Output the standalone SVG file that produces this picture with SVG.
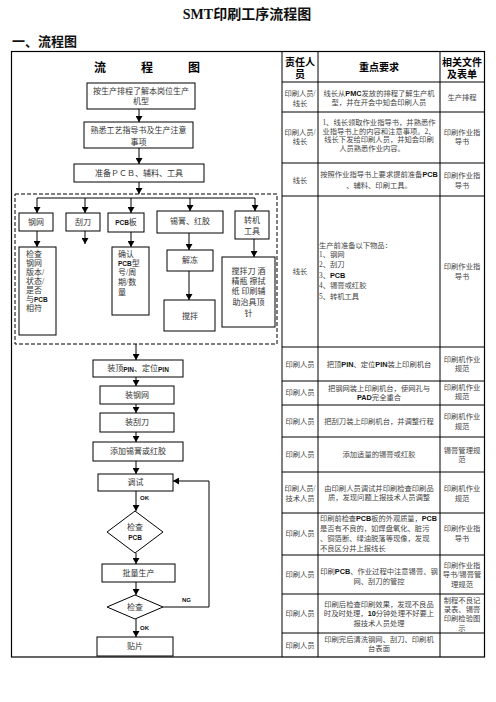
<svg xmlns="http://www.w3.org/2000/svg" width="496" height="702" viewBox="0 0 496 702">
<style>
text{font-family:"Liberation Serif","Noto Sans CJK SC",serif;dominant-baseline:central}
.t{font-size:7.3px;fill:#444;text-anchor:middle}
.f{font-size:8px;fill:#333;text-anchor:middle}
.l{text-anchor:start}
.h{font-family:"Liberation Serif","Noto Sans CJK SC",sans-serif;font-weight:bold;font-size:10px;fill:#000;text-anchor:middle}
.b{font-family:"Liberation Sans",sans-serif;font-weight:bold;fill:#111}
.box{fill:#fff;stroke:#000;stroke-width:1}
.ln{stroke:#000;stroke-width:1;fill:none}
.tb{stroke:#000;stroke-width:1.2;fill:none}
</style>
<defs>
<marker id="ah" markerUnits="userSpaceOnUse" markerWidth="6" markerHeight="7" refX="6" refY="3.5" orient="auto">
<path d="M0,0 L6,3.5 L0,7 z" fill="#000"/>
</marker>
</defs>
<rect width="496" height="702" fill="#fff"/>

<g id="title">
<text x="247" y="14" style="font-size:14px;font-weight:bold;text-anchor:middle;fill:#111">SMT印刷工序流程图</text>
<text x="12" y="40" style="font-size:13px;font-weight:bold;fill:#111;font-family:'Noto Sans CJK SC',sans-serif">一、流程图</text>
</g>

<g id="table">
<rect class="tb" x="11.5" y="51.5" width="473" height="605.5"/>
<path class="ln" d="M282,51.5V657 M318,51.5V657 M440,51.5V657 M282,82H484.5 M282,112H484.5 M282,163H484.5 M282,196H484.5 M282,347H484.5 M282,381H484.5 M282,405H484.5 M282,437H484.5 M282,472H484.5 M282,513H484.5 M282,555H484.5 M282,594H484.5 M282,633H484.5"/>
<text class="h" x="100" y="68" style="font-size:12px">流</text>
<text class="h" x="147" y="68" style="font-size:12px">程</text>
<text class="h" x="194" y="68" style="font-size:12px">图</text>
<text class="h" x="300" y="62">责任人</text>
<text class="h" x="300" y="74">员</text>
<text class="h" x="379" y="67">重点要求</text>
<text class="h" x="462" y="62">相关文件</text>
<text class="h" x="462" y="74">及表单</text>
</g>

<g id="col-resp">
<text class="t" x="300" y="93">印刷人员/</text><text class="t" x="300" y="103">线长</text>
<text class="t" x="300" y="132">印刷人员/</text><text class="t" x="300" y="141">线长</text>
<text class="t" x="300" y="180">线长</text>
<text class="t" x="300" y="271">线长</text>
<text class="t" x="300" y="364">印刷人员</text>
<text class="t" x="300" y="392">印刷人员</text>
<text class="t" x="300" y="421">印刷人员</text>
<text class="t" x="300" y="454">印刷人员</text>
<text class="t" x="300" y="488">印刷人员/</text><text class="t" x="300" y="498">技术人员</text>
<text class="t" x="300" y="533">印刷人员</text>
<text class="t" x="300" y="574">印刷人员</text>
<text class="t" x="300" y="613">印刷人员</text>
<text class="t" x="300" y="645">印刷人员</text>
</g>

<g id="col-req">
<text class="t" x="379" y="93">线长从<tspan class="b">PMC</tspan>发放的排程了解生产机</text>
<text class="t" x="379" y="102">型，并在开会中知会印刷人员</text>
<text class="t" x="379" y="122">1、线长领取作业指导书，并熟悉作</text>
<text class="t" x="379" y="131">业指导书上的内容和注意事项。2、</text>
<text class="t" x="379" y="139.5">线长下发给印刷人员，并知会印刷</text>
<text class="t" x="372" y="148.5">人员熟悉作业内容。</text>
<text class="t" x="379" y="174">按照作业指导书上要求提前准备<tspan class="b">PCB</tspan></text>
<text class="t" x="379" y="185">、辅料、印刷工具。</text>
<text class="t l" x="319" y="245">生产前准备以下物品：</text>
<text class="t l" x="319" y="254.5">1、钢网</text>
<text class="t l" x="319" y="264.5">2、刮刀</text>
<text class="t l" x="319" y="275">3、<tspan class="b">PCB</tspan></text>
<text class="t l" x="319" y="285">4、锡膏或红胶</text>
<text class="t l" x="319" y="296">5、转机工具</text>
<text class="t" x="379" y="364">把顶<tspan class="b">PIN</tspan>、定位<tspan class="b">PIN</tspan>装上印刷机台</text>
<text class="t" x="379" y="388">把钢网装上印刷机台，使网孔与</text>
<text class="t" x="379" y="397"><tspan class="b">PAD</tspan>完全重合</text>
<text class="t" x="379" y="421">把刮刀装上印刷机台，并调整行程</text>
<text class="t" x="379" y="454">添加适量的锡膏或红胶</text>
<text class="t" x="379" y="488">由印刷人员调试并印刷检查印刷品</text>
<text class="t" x="379" y="497">质，发现问题上报技术人员调整</text>
<text class="t l" x="320" y="518" textLength="117" lengthAdjust="spacingAndGlyphs">印刷前检查<tspan class="b">PCB</tspan>板的外观质量，<tspan class="b">PCB</tspan></text>
<text class="t l" x="320" y="528">是否有不良的，如焊盘氧化、脏污</text>
<text class="t l" x="320" y="538">、铜箔断、绿油脱落等现像，发现</text>
<text class="t l" x="320" y="548">不良区分并上报线长</text>
<text class="t" x="379" y="571">印刷<tspan class="b">PCB</tspan>、作业过程中注意锡膏、钢</text>
<text class="t" x="379" y="581">网、刮刀的管控</text>
<text class="t" x="379" y="604">印刷后检查印刷效果，发现不良品</text>
<text class="t" x="379" y="613">时及时处理，<tspan class="b">10</tspan>分钟处理不好要上</text>
<text class="t" x="379" y="623">报技术人员处理</text>
<text class="t" x="379" y="639">印刷完后清洗钢网、刮刀、印刷机</text>
<text class="t" x="379" y="648">台表面</text>
</g>

<g id="col-doc">
<text class="t" x="462" y="97">生产排程</text>
<text class="t" x="462" y="132">印刷作业指</text><text class="t" x="462" y="141">导书</text>
<text class="t" x="462" y="175">印刷作业指</text><text class="t" x="462" y="185">导书</text>
<text class="t" x="462" y="266">印刷作业指</text><text class="t" x="462" y="276">导书</text>
<text class="t" x="462" y="359">印刷机作业</text><text class="t" x="462" y="368">规范</text>
<text class="t" x="462" y="387">印刷机作业</text><text class="t" x="462" y="396">规范</text>
<text class="t" x="462" y="416">印刷机作业</text><text class="t" x="462" y="426">规范</text>
<text class="t" x="462" y="450">锡膏管理规</text><text class="t" x="462" y="459">范</text>
<text class="t" x="462" y="488">印刷机作业</text><text class="t" x="462" y="498">规范</text>
<text class="t" x="462" y="528">印刷作业指</text><text class="t" x="462" y="538">导书</text>
<text class="t" x="462" y="565">印刷作业指</text><text class="t" x="462" y="574">导书/锡膏管</text><text class="t" x="462" y="584">理规范</text>
<text class="t" x="462" y="600">制程不良记</text><text class="t" x="462" y="609">录表、锡膏</text><text class="t" x="462" y="618">印刷检验图</text><text class="t" x="462" y="628">示</text>
</g>

<g id="connectors">
<path class="ln" marker-end="url(#ah)" d="M139,109V122"/>
<path class="ln" marker-end="url(#ah)" d="M139,148V164"/>
<path class="ln" marker-end="url(#ah)" d="M139,182V194"/>
<path class="ln" d="M37,198H255"/>
<path class="ln" marker-end="url(#ah)" d="M37,198V213"/>
<path class="ln" marker-end="url(#ah)" d="M85,198V213"/>
<path class="ln" marker-end="url(#ah)" d="M131,198V213"/>
<path class="ln" marker-end="url(#ah)" d="M190,198V211"/>
<path class="ln" marker-end="url(#ah)" d="M255,198V211"/>
<path class="ln" marker-end="url(#ah)" d="M37,231V247"/>
<path class="ln" marker-end="url(#ah)" d="M85,231V244"/>
<path class="ln" marker-end="url(#ah)" d="M131,232V247"/>
<path class="ln" marker-end="url(#ah)" d="M189,233V250"/>
<path class="ln" marker-end="url(#ah)" d="M189,271V300"/>
<path class="ln" marker-end="url(#ah)" d="M254,239V257"/>
<path class="ln" marker-end="url(#ah)" d="M136,344V360"/>
<path class="ln" marker-end="url(#ah)" d="M136,377V386"/>
<path class="ln" marker-end="url(#ah)" d="M136,404V413"/>
<path class="ln" marker-end="url(#ah)" d="M136,432V442"/>
<path class="ln" marker-end="url(#ah)" d="M136,461V474"/>
<path class="ln" marker-end="url(#ah)" d="M136,491V511"/>
<path class="ln" marker-end="url(#ah)" d="M136,553V564"/>
<path class="ln" marker-end="url(#ah)" d="M136,582V595"/>
<path class="ln" marker-end="url(#ah)" d="M136,619V637"/>
<path class="ln" marker-end="url(#ah)" d="M163,607H209V481H173"/>
<text x="140" y="498" style="font-family:'Liberation Sans',sans-serif;font-weight:bold;font-size:6px;fill:#111">OK</text>
<text x="140" y="628" style="font-family:'Liberation Sans',sans-serif;font-weight:bold;font-size:6px;fill:#111">OK</text>
<text x="182" y="600" style="font-family:'Liberation Sans',sans-serif;font-weight:bold;font-size:6px;fill:#111">NG</text>
</g>

<g id="prep-group">
<rect x="15" y="194" width="262" height="150" fill="none" stroke="#000" stroke-width="1" stroke-dasharray="4 2"/>
</g>

<g id="n1"><rect class="box" x="87" y="83" width="108" height="26"/><text class="f" x="141" y="91">按生产排程了解本岗位生产</text><text class="f" x="141" y="101">机型</text></g>
<g id="n2"><rect class="box" x="84" y="122" width="109" height="26"/><text class="f" x="138.5" y="130">熟悉工艺指导书及生产注意</text><text class="f" x="138.5" y="142">事项</text></g>
<g id="n3"><rect class="box" x="74" y="164" width="130" height="18"/><text class="f" x="139" y="173">准备ＰＣＢ、辅料、工具</text></g>

<g id="n-gw"><rect class="box" x="19" y="213" width="34" height="18"/><text class="f" x="36" y="222">钢网</text></g>
<g id="n-gd"><rect class="box" x="66" y="213" width="34" height="18"/><text class="f" x="83" y="222">刮刀</text></g>
<g id="n-pcb"><rect class="box" x="108" y="213" width="36" height="19"/><text class="f" x="126" y="222"><tspan class="b" style="font-size:6.5px">PCB</tspan>板</text></g>
<g id="n-xg"><rect class="box" x="157" y="211" width="66" height="22"/><text class="f" x="190" y="221">锡膏、红胶</text></g>
<g id="n-zj"><rect class="box" x="235" y="211" width="34" height="28"/><text class="f" x="252" y="220">转机</text><text class="f" x="252" y="231">工具</text></g>

<g id="n-jcgw"><rect class="box" x="19" y="247" width="37" height="88"/>
<text class="f l" x="26" y="254">检查</text><text class="f l" x="26" y="263">钢网</text><text class="f l" x="26" y="272">版本/</text><text class="f l" x="26" y="281">状态/</text><text class="f l" x="26" y="290">是否</text><text class="f l" x="26" y="299">与<tspan class="b" style="font-size:6.5px">PCB</tspan></text><text class="f l" x="26" y="308">相符</text></g>
<g id="n-qr"><rect class="box" x="112" y="247" width="37" height="68"/>
<text class="f l" x="118" y="254">确认</text><text class="f l" x="118" y="263"><tspan class="b" style="font-size:6.5px">PCB</tspan>型</text><text class="f l" x="118" y="272">号/周</text><text class="f l" x="118" y="282">期/数</text><text class="f l" x="118" y="292">量</text></g>
<g id="n-jd"><rect class="box" x="167" y="250" width="46" height="21"/><text class="f" x="190" y="260">解冻</text></g>
<g id="n-jb"><rect class="box" x="164" y="300" width="51" height="31"/><text class="f" x="190" y="316">搅拌</text></g>
<g id="n-tools"><rect class="box" x="222" y="257" width="53" height="70"/>
<text class="f" x="248.5" y="271">搅拌刀 酒</text><text class="f" x="248.5" y="281">精瓶 擦拭</text><text class="f" x="248.5" y="291">纸 印刷辅</text><text class="f" x="248.5" y="302">助治具顶</text><text class="f" x="248.5" y="313">针</text></g>

<g id="n4"><rect class="box" x="93" y="360" width="90" height="17"/><text class="f" x="138" y="368.5">装顶<tspan class="b" style="font-size:6.5px">PIN</tspan>、定位<tspan class="b" style="font-size:6.5px">PIN</tspan></text></g>
<g id="n5"><rect class="box" x="100" y="386" width="74" height="18"/><text class="f" x="137" y="395">装钢网</text></g>
<g id="n6"><rect class="box" x="100" y="413" width="74" height="19"/><text class="f" x="137" y="422.5">装刮刀</text></g>
<g id="n7"><rect class="box" x="93" y="442" width="90" height="19"/><text class="f" x="138" y="451.5">添加锡膏或红胶</text></g>
<g id="n8"><rect class="box" x="98" y="474" width="75" height="17"/><text class="f" x="135.5" y="482.5">调试</text></g>
<g id="n9"><polygon class="box" points="135,511 163,532 135,553 107,532"/><text class="f" x="135" y="527">检查</text><text class="f" x="135" y="537"><tspan class="b" style="font-size:6.5px">PCB</tspan></text></g>
<g id="n10"><rect class="box" x="102" y="564" width="73" height="18"/><text class="f" x="138.5" y="573">批量生产</text></g>
<g id="n11"><polygon class="box" points="135,595 163,607 135,619 107,607"/><text class="f" x="135" y="607">检查</text></g>
<g id="n12"><rect class="box" x="97" y="637" width="76" height="19"/><text class="f" x="135" y="646.5">贴片</text></g>
</svg>
